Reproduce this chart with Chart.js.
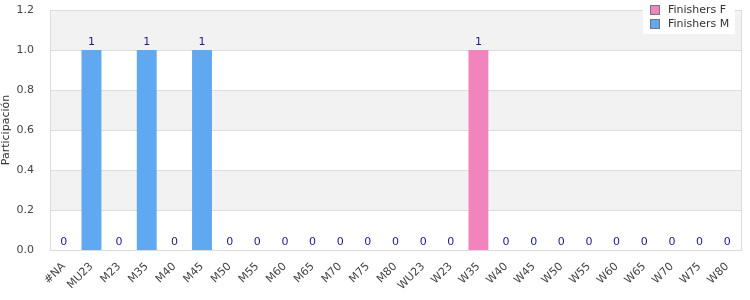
<!DOCTYPE html>
<html>
<head>
<meta charset="utf-8">
<script src="https://cdn.jsdelivr.net/npm/chart.js@4/dist/chart.umd.min.js"></script>
<style>
  html, body { margin: 0; padding: 0; background: #fff; }
  #wrap { width: 750px; height: 300px; }
</style>
</head>
<body>
<div id="wrap"><canvas id="chart" width="750" height="300"></canvas></div>
<script>
// categorias y valores
const categories = ["#NA", "MU23", "M23", "M35", "M40", "M45", "M50", "M55", "M60", "M65", "M70", "M75", "M80",
  "WU23", "W23", "W35", "W40", "W45", "W50", "W55", "W60", "W65", "W70", "W75", "W80"];
const finishersF = [0, 0, 0, 0, 0, 0, 0, 0, 0, 0, 0, 0, 0, 0, 0, 1, 0, 0, 0, 0, 0, 0, 0, 0, 0];
const finishersM = [0, 1, 0, 1, 0, 1, 0, 0, 0, 0, 0, 0, 0, 0, 0, 0, 0, 0, 0, 0, 0, 0, 0, 0, 0];
const yTicks = [0, 0.2, 0.4, 0.6, 0.8, 1.0, 1.2];

const colorF = "#f184bc";
const colorM = "#60a9f1";
const FONT = "'DejaVu Sans', sans-serif";

// bandas alternas de fondo
const bandsPlugin = {
  id: "bands",
  beforeDatasetsDraw(chart) {
    const { ctx, chartArea, scales } = chart;
    const y = scales.y;
    ctx.save();
    for (let i = 0; i < yTicks.length - 1; i++) {
      if (i % 2 === 1) {
        const top = y.getPixelForValue(yTicks[i + 1]);
        const bot = y.getPixelForValue(yTicks[i]);
        ctx.fillStyle = "#f2f2f2";
        ctx.fillRect(chartArea.left, top, chartArea.right - chartArea.left, bot - top);
      }
    }
    // lineas de la rejilla
    ctx.strokeStyle = "#dcdcdc";
    ctx.lineWidth = 1;
    yTicks.forEach((t) => {
      const py = Math.round(y.getPixelForValue(t)) + 0.5;
      ctx.beginPath();
      ctx.moveTo(chartArea.left, py);
      ctx.lineTo(chartArea.right, py);
      ctx.stroke();
    });
    ctx.beginPath();
    ctx.moveTo(Math.round(chartArea.left) + 0.5, chartArea.top);
    ctx.lineTo(Math.round(chartArea.left) + 0.5, chartArea.bottom);
    ctx.moveTo(Math.round(chartArea.right) + 0.5, chartArea.top);
    ctx.lineTo(Math.round(chartArea.right) + 0.5, chartArea.bottom);
    ctx.stroke();
    ctx.restore();
  },
};

// totales encima de cada barra
const totalsPlugin = {
  id: "totals",
  afterDatasetsDraw(chart) {
    const { ctx, scales } = chart;
    ctx.save();
    ctx.font = "11px " + FONT;
    ctx.fillStyle = "#1c1c8a";
    ctx.textAlign = "center";
    ctx.textBaseline = "bottom";
    categories.forEach((c, i) => {
      const total = finishersF[i] + finishersM[i];
      const px = scales.x.getPixelForValue(i);
      const py = scales.y.getPixelForValue(total);
      ctx.fillText(String(total), px, py - 2);
    });
    ctx.restore();
  },
};

// leyenda con fondo blanco
const legendPlugin = {
  id: "boxLegend",
  afterDraw(chart) {
    const { ctx } = chart;
    const items = [["Finishers F", colorF], ["Finishers M", colorM]];
    ctx.save();
    ctx.fillStyle = "#ffffff";
    ctx.fillRect(643, 0, 92, 34);
    ctx.font = "11px " + FONT;
    ctx.textBaseline = "middle";
    items.forEach((it, i) => {
      const y = 10 + i * 14;
      ctx.fillStyle = it[1];
      ctx.fillRect(650.5, y - 4.5, 9, 9);
      ctx.strokeStyle = "#777";
      ctx.lineWidth = 1;
      ctx.strokeRect(650.5, y - 4.5, 9, 9);
      ctx.fillStyle = "#333";
      ctx.textAlign = "left";
      ctx.fillText(it[0], 668, y);
    });
    ctx.restore();
  },
};

new Chart(document.getElementById("chart"), {
  type: "bar",
  data: {
    labels: categories,
    datasets: [
      { label: "Finishers F", data: finishersF, backgroundColor: colorF, borderWidth: 0 },
      { label: "Finishers M", data: finishersM, backgroundColor: colorM, borderWidth: 0 },
    ],
  },
  options: {
    responsive: false,
    animation: false,
    layout: { padding: { top: 10, right: 9, left: 0, bottom: 0 } },
    datasets: { bar: { categoryPercentage: 1, barPercentage: 0.72 } },
    scales: {
      x: {
        stacked: true,
        grid: { display: false },
        border: { color: "#dcdcdc" },
        ticks: {
          color: "#444",
          font: { family: FONT, size: 11 },
          minRotation: 45,
          maxRotation: 45,
          autoSkip: false,
          padding: 2,
        },
        afterFit(scale) {
          scale.height = 50;
          scale.paddingLeft = 0;
          scale.paddingRight = 0;
        },
      },
      y: {
        stacked: true,
        min: 0,
        max: 1.2,
        afterBuildTicks(scale) { scale.ticks = yTicks.map((v) => ({ value: v })); },
        grid: { display: false },
        border: { display: false },
        ticks: {
          color: "#444",
          font: { family: FONT, size: 11 },
          padding: 8,
          callback: (v) => Number(v).toFixed(1),
        },
        title: {
          display: true,
          text: "Participación",
          color: "#333",
          font: { family: FONT, size: 11 },
          padding: { top: 0, bottom: 4 },
        },
        afterFit(scale) {
          scale.width = 50;
          scale.paddingTop = 0;
          scale.paddingBottom = 0;
        },
      },
    },
    plugins: {
      legend: { display: false },
      tooltip: { enabled: false },
    },
  },
  plugins: [bandsPlugin, totalsPlugin, legendPlugin],
});
</script>
</body>
</html>
